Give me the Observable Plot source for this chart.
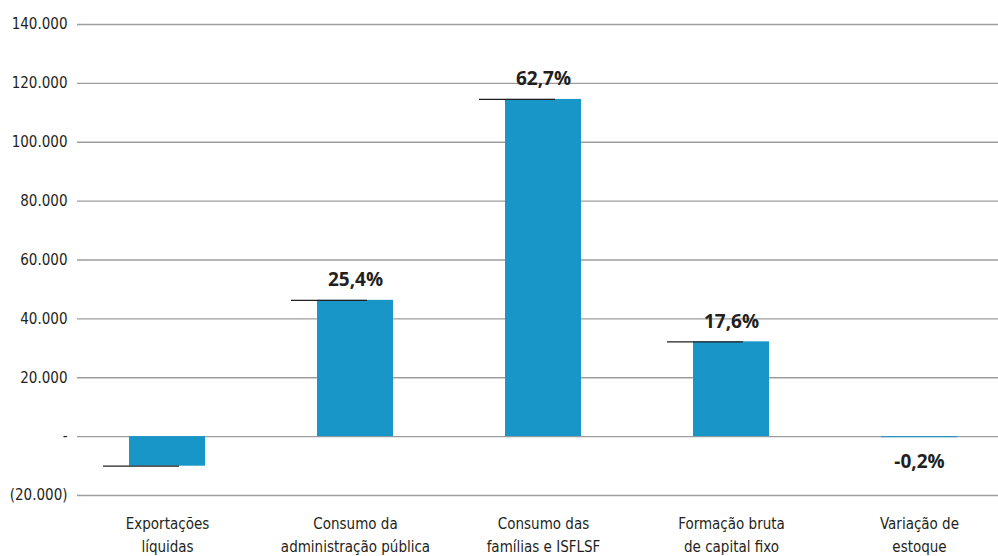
<!DOCTYPE html>
<html>
<head>
<meta charset="utf-8">
<script src="https://cdn.jsdelivr.net/npm/d3@7"></script>
<script src="https://cdn.jsdelivr.net/npm/@observablehq/plot@0.6"></script>
<style>
  html, body { margin: 0; padding: 0; background: #fff; }
  #chart { width: 998px; height: 556px; overflow: hidden; }
</style>
</head>
<body>
<div id="chart"></div>
<script>
const categories = ["Exportações líquidas", "Consumo da administração pública", "Consumo das famílias e ISFLSF", "Formação bruta de capital fixo", "Variação de estoque"];
const categoryLines = ["Exportações\nlíquidas", "Consumo da\nadministração pública", "Consumo das\nfamílias e ISFLSF", "Formação bruta\nde capital fixo", "Variação de\nestoque"];
const values = [-10050, 46300, 114550, 32200, -365];
const shares = [null, "25,4%", "62,7%", "17,6%", "-0,2%"];
const yTicks = [-20000, 0, 20000, 40000, 60000, 80000, 100000, 120000, 140000];

const data = categories.map((c, i) => ({cat: c, lines: categoryLines[i], value: values[i], share: shares[i]}));

const loc = d3.formatLocale({decimal: ",", thousands: ".", grouping: [3], currency: ["", ""]});
const fmt = loc.format(",");
const tickFormat = d => d === 0 ? "-" : d < 0 ? `(${fmt(-d)})` : fmt(d);

const narrow = "'Liberation Sans Narrow', 'DejaVu Sans Condensed', sans-serif";
const bold = "'Open Sans', 'Noto Sans', sans-serif";

const chart = Plot.plot({
  width: 998,
  height: 556,
  marginLeft: 77,
  marginRight: 0,
  marginTop: 24,
  marginBottom: 61,
  style: {fontFamily: narrow, fontSize: "15px", color: "#231f20", background: "#fff"},
  x: {domain: categories, range: [77, 1008], paddingInner: 0.596, paddingOuter: 0.271, axis: null},
  y: {domain: [-20000, 140000], axis: null, label: null},
  marks: [
    Plot.gridY(yTicks, {stroke: "#9d9d9d", strokeOpacity: 1, strokeWidth: 1.3}),
    Plot.axisY(yTicks, {tickSize: 0, tickPadding: 10, tickFormat, label: null, fill: "#231f20", fontSize: 15}),
    Plot.barY(data, {x: "cat", y: "value", fill: "#1996c8"}),
    Plot.tickY(data.filter(d => d.cat !== categories[4]), {x: "cat", y: "value", dx: -26, stroke: "#231f20", strokeWidth: 1.2}),
    Plot.text(data.filter(d => d.share && d.value > 0), {x: "cat", y: "value", text: "share", lineAnchor: "bottom", dy: -14, fontFamily: bold, fontWeight: 700, fontSize: 19, fill: "#231f20"}),
    Plot.text(data.filter(d => d.share && d.value < 0), {x: "cat", y: "value", text: "share", lineAnchor: "top", dy: 17, fontFamily: bold, fontWeight: 700, fontSize: 19, fill: "#231f20"}),
    Plot.text(data, {x: "cat", text: "lines", frameAnchor: "bottom", lineAnchor: "top", dy: 17, lineHeight: 1.55, fontSize: 15, fill: "#231f20"})
  ]
});
document.getElementById("chart").appendChild(chart);
</script>
</body>
</html>
